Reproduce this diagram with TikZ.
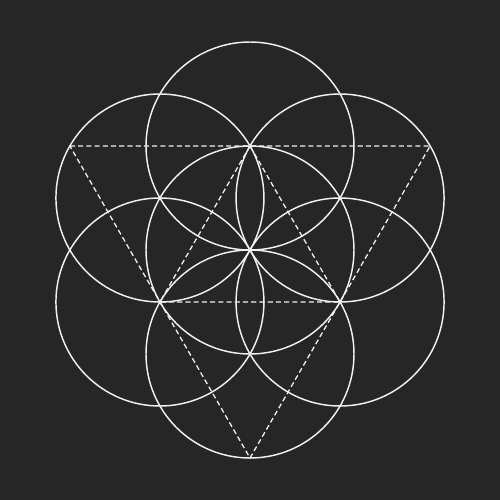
\documentclass[tikz,border=0pt]{standalone}
\definecolor{backdrop}{RGB}{38,38,38}
\definecolor{chalk}{RGB}{240,240,240}
\begin{document}
\begin{tikzpicture}
    \fill[backdrop] (-4.8077,-4.8077) rectangle (4.8077,4.8077);
    % corners of the two triangles
    \coordinate (outerleft) at (-3.4641,2);
    \coordinate (outerright) at (3.4641,2);
    \coordinate (outerbottom) at (0,-4);
    \coordinate (innertop) at (0,2);
    \coordinate (innerleft) at (-1.7321,-1);
    \coordinate (innerright) at (1.7321,-1);
    \draw[chalk,line width=.7pt,dash pattern=on 2.8pt off 1.7pt] (outerleft) -- (outerright) -- (outerbottom) -- cycle;
    \draw[chalk,line width=.7pt,dash pattern=on 2.8pt off 1.7pt] (innertop) -- (innerleft) -- (innerright) -- cycle;
    % seven circles
    \draw[chalk,line width=.8pt] (0,0) circle (2);
    \foreach \a in {30,90,...,330}
        \draw[chalk,line width=.8pt] (\a:2) circle (2);
\end{tikzpicture}
\end{document}
